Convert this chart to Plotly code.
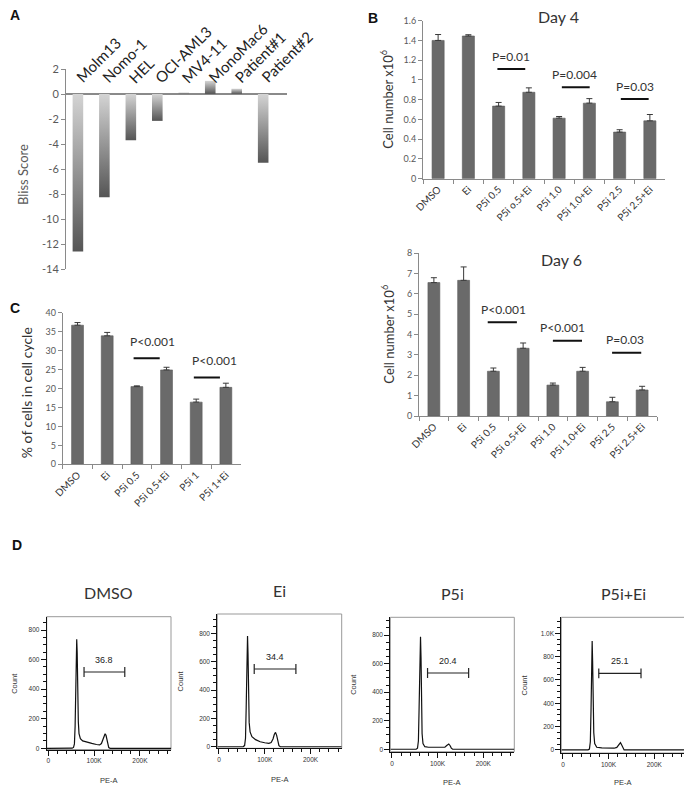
import plotly.graph_objects as go

FONT = "Lato, 'Open Sans', sans-serif"
ARIAL = "'Liberation Sans', Arial, sans-serif"
GREY_TXT = "#595959"
AXIS_GREY = "#8a8a8a"

# page offset (body margin of the html page) and figure size
OFF = 8
W, H = 684, 781


def hdom(left, right):
    return [(left - OFF) / W, (right - OFF) / W]


def vdom(top, bottom):
    return [1 - (bottom - OFF) / H, 1 - (top - OFF) / H]


# --- Panel A: Bliss scores ---
cell_lines = ["Molm13", "Nomo-1", "HEL", "OCI-AML3", "MV4-11", "MonoMac6", "Patient#1", "Patient#2"]
bliss_score = [-12.6, -8.25, -3.7, -2.15, 0.12, 1.05, 0.42, -5.5]
bliss_ticks = [2, 0, -2, -4, -6, -8, -10, -12, -14]

# --- Panel B: cell number (x10^6) ---
treatments = ["DMSO", "Ei", "P5i 0.5", "P5i o.5+Ei", "P5i 1.0", "P5i 1.0+Ei", "P5i 2.5", "P5i 2.5+Ei"]
day4_mean = [1.40, 1.445, 0.735, 0.875, 0.613, 0.765, 0.472, 0.586]
day4_err = [0.06, 0.013, 0.037, 0.045, 0.017, 0.046, 0.024, 0.064]
day4_p_text = ["P=0.01", "P=0.004", "P=0.03"]
day4_p_line_x = [2.42, 4.55, 6.5]
day4_p_line_y = [1.11, 0.925, 0.807]
day4_p_text_x = [2.42, 4.5, 6.5]

day6_mean = [6.56, 6.67, 2.20, 3.33, 1.52, 2.20, 0.70, 1.28]
day6_err = [0.24, 0.66, 0.16, 0.26, 0.10, 0.19, 0.22, 0.18]
day6_p_text = ["P<0.001", "P<0.001", "P=0.03"]
day6_p_line_x = [2.3, 4.49, 6.48]
day6_p_line_y = [4.61, 3.70, 3.11]
day6_p_text_x = [2.33, 4.31, 6.43]

# --- Panel C: % of cells in cell cycle ---
cc_groups = ["DMSO", "Ei", "P5i 0.5", "P5i 0.5+Ei", "P5i 1", "P5i 1+Ei"]
cc_mean = [36.7, 33.9, 20.5, 24.9, 16.4, 20.3]
cc_err = [0.7, 0.9, 0.2, 0.7, 0.8, 1.1]
cc_p_text = ["P<0.001", "P<0.001"]
cc_p_line_x = [2.33, 4.36]
cc_p_line_y = [28.0, 22.9]
cc_p_text_x = [2.54, 4.6]

# --- Panel D: PE-A histograms (x in thousands) ---
hist_titles = ["DMSO", "Ei", "P5i", "P5i+Ei"]
dmso_x = [-3, 40, 52, 55, 57, 58.5, 60, 61, 62, 63, 64, 65.5, 67, 70, 75, 85, 95, 105, 112, 116, 119, 122, 124, 126, 128, 130, 132, 135, 268]
dmso_y = [0, 0, 1, 6, 30, 150, 450, 680, 737, 650, 400, 180, 100, 65, 50, 40, 33, 26, 23, 32, 60, 90, 99, 88, 55, 20, 5, 0, 0]
ei_x = [-3, 40, 53, 56, 58, 59.5, 61, 62.4, 63.5, 64.5, 66, 68, 72, 80, 90, 100, 109, 114, 118, 121, 123.5, 126, 128.5, 131, 134, 268]
ei_y = [0, 0, 1, 8, 60, 280, 640, 781, 650, 380, 170, 105, 71, 50, 35, 28, 24, 30, 55, 88, 101, 80, 35, 8, 0, 0]
p5i_x = [-3, 40, 53, 56, 58, 59.5, 61, 62.6, 63.7, 64.7, 66, 68, 72, 80, 95, 110, 116, 120, 124.5, 127.5, 130, 133, 268]
p5i_y = [0, 0, 1, 8, 60, 290, 650, 788, 640, 330, 110, 40, 18, 14, 12, 11, 14, 26, 37, 25, 8, 0, 0]
combo_x = [-3, 42, 55, 58, 60, 61.5, 63, 64, 65, 66, 67.5, 69.5, 74, 85, 100, 112, 118, 122, 126, 129, 131.5, 134, 268]
combo_y = [0, 0, 1, 8, 70, 340, 770, 934, 760, 420, 150, 55, 23, 18, 16, 15, 22, 45, 63, 40, 12, 0, 0]
gate_lo = [78, 77, 78, 78.5]
gate_hi = [167, 168, 168, 171]
gate_y = [516, 548, 534, 657]
gate_pct = ["36.8", "34.4", "20.4", "25.1"]
hist_ymax = [890, 936, 924, 1137]
hist_ymin = [-8, -11, -17, -26]

fig = go.Figure()

# ---------- Panel A ----------
half_w = 0.2
for i, v in enumerate(bliss_score):
    fig.add_trace(go.Scatter(
        x=[i - half_w, i + half_w, i + half_w, i - half_w, i - half_w],
        y=[0, 0, v, v, 0], mode="lines", line=dict(width=0), fill="toself",
        fillgradient=dict(type="vertical", colorscale=[[0, "#555555"], [1, "#d4d4d4"]]),
        xaxis="x", yaxis="y", hoverinfo="skip"))
    fig.add_annotation(x=i - 0.32, y=0.4, xref="x", yref="y", text=cell_lines[i],
                       textangle=-45, xanchor="left", yanchor="bottom", showarrow=False,
                       font=dict(family=FONT, size=15, color="#222"))

fig.update_layout(
    xaxis=dict(domain=hdom(66, 287), range=[-0.45, 7.9], visible=False),
    yaxis=dict(domain=vdom(69, 269), range=[-14, 2], tickvals=bliss_ticks,
               ticktext=[str(t) for t in bliss_ticks], ticks="outside", ticklen=4,
               tickcolor=AXIS_GREY, showline=True, linecolor=AXIS_GREY, showgrid=False,
               zeroline=True, zerolinecolor=AXIS_GREY, zerolinewidth=1.5,
               tickfont=dict(family=FONT, size=11, color=GREY_TXT)),
)
fig.add_annotation(x=0, y=0.5, xref="x domain", yref="y domain", xshift=-43, yshift=-6,
                   xanchor="center", yanchor="middle", text="Bliss Score", textangle=-90,
                   showarrow=False, font=dict(family=FONT, size=13, color=GREY_TXT))


def bar_panel(n, cats, mean, err, yrange, dtick, p_text, p_x, p_y, p_tx, half, gap, xdom, ydom):
    xa, ya = f"x{n}", f"y{n}"
    fig.add_trace(go.Bar(
        x=cats, y=mean, width=0.4, xaxis=xa, yaxis=ya,
        marker=dict(color="#6a6a6a", line=dict(color="#5a5a5a", width=0.6)),
        error_y=dict(type="data", array=err, arrayminus=[0] * len(err), symmetric=False,
                     color="#3a3a3a", thickness=1, width=3)))
    tv = [round(k * dtick, 4) for k in range(int(round(yrange[1] / dtick)) + 1)]
    fig.layout[f"xaxis{n}"] = dict(
        domain=xdom, anchor=ya, type="category", range=[-0.5, len(cats) - 0.5],
        tickson="boundaries", ticks="outside", ticklen=4, tickcolor=AXIS_GREY,
        showline=True, linecolor=AXIS_GREY, tickangle=-45, showgrid=False,
        tickfont=dict(family=FONT, size=10, color="#333"))
    fig.layout[f"yaxis{n}"] = dict(
        domain=ydom, anchor=xa, range=yrange, tickvals=tv, ticktext=[f"{t:g}" for t in tv],
        ticks="outside", ticklen=4, tickcolor=AXIS_GREY, showline=True, linecolor=AXIS_GREY,
        showgrid=False, zeroline=False, tickfont=dict(family=FONT, size=9, color=GREY_TXT))
    for t, lx, ly, tx in zip(p_text, p_x, p_y, p_tx):
        fig.add_shape(type="line", xref=xa, yref=ya, x0=lx - half, x1=lx + half, y0=ly, y1=ly,
                      line=dict(color="#111", width=2))
        fig.add_annotation(x=tx, y=ly, xref=xa, yref=ya, yshift=gap, text=t, showarrow=False,
                           font=dict(family=FONT, size=12, color="#333"))


# ---------- Panel B ----------
bar_panel(2, treatments, day4_mean, day4_err, [0, 1.6], 0.2, day4_p_text, day4_p_line_x,
          day4_p_line_y, day4_p_text_x, 0.46, 13, hdom(423, 665), vdom(20.7, 178.7))
bar_panel(3, treatments, day6_mean, day6_err, [0, 8], 1, day6_p_text, day6_p_line_x,
          day6_p_line_y, day6_p_text_x, 0.49, 13, hdom(419, 657), vdom(253.3, 416))
for n, day, xpos, ysh in [(2, "Day 4", 0.558, 4), (3, "Day 6", 0.6, -6)]:
    fig.add_annotation(x=xpos, y=1, xref=f"x{n} domain", yref=f"y{n} domain", yshift=ysh,
                       text=day, showarrow=False, xanchor="center", yanchor="middle",
                       font=dict(family=FONT, size=16, color="#333"))
for n, sh in [(2, -36), (3, -31)]:
    fig.add_annotation(x=0, y=0.5, xref=f"x{n} domain", yref=f"y{n} domain", xshift=sh,
                       xanchor="center", yanchor="middle", text="Cell number x10<sup>6</sup>",
                       textangle=-90, showarrow=False, font=dict(family=FONT, size=13, color="#333"))

# ---------- Panel C ----------
bar_panel(4, cc_groups, cc_mean, cc_err, [0, 40], 5, cc_p_text, cc_p_line_x, cc_p_line_y,
          cc_p_text_x, 0.44, 17, hdom(62.7, 240.7), vdom(312.7, 464.3))
fig.add_annotation(x=0, y=0.5, xref="x4 domain", yref="y4 domain", xshift=-36, yshift=-4,
                   xanchor="center", yanchor="middle", text="% of cells in cell cycle",
                   textangle=-90, showarrow=False, font=dict(family=FONT, size=14, color="#333"))

# ---------- Panel D ----------
hist_x = [dmso_x, ei_x, p5i_x, combo_x]
hist_y = [dmso_y, ei_y, p5i_y, combo_y]
d_xdom = [hdom(46.7, 171), hdom(217.3, 341.7), hdom(390.3, 514.3), hdom(561.3, 685.3)]
d_ydom = [vdom(616.7, 749.5), vdom(614, 748.3), vdom(617.3, 751.7), vdom(617.3, 753)]
count_shift = [-33, -37, -37, -37]
pea_shift = [-31, -31, -31, -29]
for k in range(4):
    n = 5 + k
    xa, ya = f"x{n}", f"y{n}"
    fig.add_trace(go.Scatter(x=hist_x[k], y=hist_y[k], mode="lines", xaxis=xa, yaxis=ya,
                             line=dict(color="#111", width=1.2)))
    fig.add_trace(go.Scatter(x=[gate_lo[k], gate_hi[k]], y=[gate_y[k], gate_y[k]],
                             mode="lines+markers", xaxis=xa, yaxis=ya,
                             line=dict(color="#222", width=1.2),
                             marker=dict(symbol="line-ns-open", size=7,
                                         line=dict(color="#222", width=1.2))))
    fig.add_annotation(x=(gate_lo[k] + gate_hi[k]) / 2, y=gate_y[k], xref=xa, yref=ya,
                       yshift=12, text=gate_pct[k], showarrow=False,
                       font=dict(family=ARIAL, size=9, color="#222"))
    if hist_ymax[k] > 1000:
        yt = [0, 200, 400, 600, 800, 1000]
        ytt = ["0", "200", "400", "600", "800", "1.0K"]
    else:
        yt = [0, 200, 400, 600, 800]
        ytt = [str(t) for t in yt]
    fig.layout[f"xaxis{n}"] = dict(
        domain=d_xdom[k], anchor=ya, range=[-3.6, 268], tickvals=[0, 100, 200],
        ticktext=["0", "100K", "200K"], ticks="outside", ticklen=5, tickcolor="#111",
        showline=True, linecolor="#111", showgrid=False, zeroline=False,
        minor=dict(tickmode="linear", tick0=0, dtick=20, ticks="outside", ticklen=3,
                   tickcolor="#111", showgrid=False),
        tickfont=dict(family=ARIAL, size=6.5, color="#333"))
    fig.layout[f"yaxis{n}"] = dict(
        domain=d_ydom[k], anchor=xa, range=[hist_ymin[k], hist_ymax[k]], tickvals=yt,
        ticktext=ytt, ticks="outside", ticklen=5, tickcolor="#111", showline=True,
        linecolor="#111", showgrid=False, zeroline=False,
        minor=dict(tickmode="linear", tick0=0, dtick=50, ticks="outside", ticklen=3,
                   tickcolor="#111", showgrid=False),
        tickfont=dict(family=ARIAL, size=6.5, color="#333"))
    fig.add_shape(type="rect", xref=f"{xa} domain", yref=f"{ya} domain", x0=0, x1=1, y0=0, y1=1,
                  line=dict(color="#999", width=1), layer="below")
    fig.add_annotation(x=0.5, y=1, xref=f"{xa} domain", yref=f"{ya} domain", yshift=24,
                       xanchor="center", yanchor="middle", text=hist_titles[k], showarrow=False,
                       font=dict(family=FONT, size=16, color="#333"))
    fig.add_annotation(x=0, y=0.5, xref=f"{xa} domain", yref=f"{ya} domain", xshift=count_shift[k],
                       xanchor="center", yanchor="middle", text="Count", textangle=-90,
                       showarrow=False, font=dict(family=ARIAL, size=7.5, color="#333"))
    fig.add_annotation(x=0.5, y=0, xref=f"{xa} domain", yref=f"{ya} domain", yshift=pea_shift[k],
                       xanchor="center", yanchor="middle", text="PE-A", showarrow=False,
                       font=dict(family=ARIAL, size=7.5, color="#333"))

# ---------- Panel letters ----------
for letter, px, py, xa_, ya_ in [("A", 15, 15, "center", "middle"), ("B", 373, 8, "center", "top"),
                                 ("C", 8, 308, "left", "middle"), ("D", 17, 545, "center", "middle")]:
    fig.add_annotation(x=(px - OFF) / W, y=1 - (py - OFF) / H, xref="paper", yref="paper",
                       xanchor=xa_, yanchor=ya_, text=f"<b>{letter}</b>", showarrow=False,
                       font=dict(family=ARIAL, size=14, color="#111"))

fig.update_xaxes(automargin=False)
fig.update_yaxes(automargin=False)
fig.update_layout(width=W, height=H, margin=dict(l=0, r=0, t=0, b=0, autoexpand=False),
                  paper_bgcolor="white", plot_bgcolor="white", showlegend=False)

fig.write_html("out.html")
